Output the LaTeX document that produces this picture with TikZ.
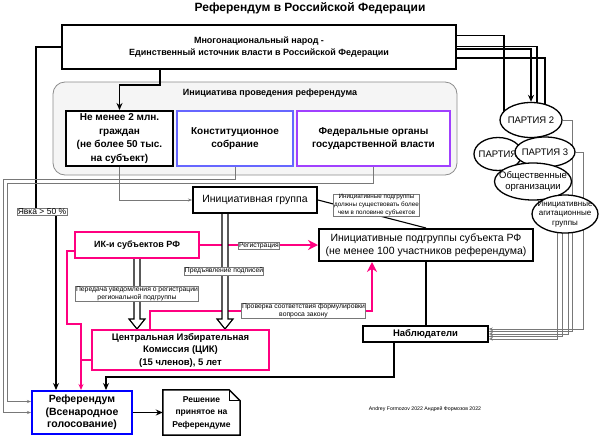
\documentclass[tikz,border=0pt]{standalone}
\usepackage{fontspec}
\setmainfont{Liberation Sans}
\usetikzlibrary{arrows.meta,calc,shapes.geometric}
\definecolor{pinkc}{RGB}{255,0,128}
\definecolor{bluec}{RGB}{0,0,255}
\definecolor{constc}{RGB}{102,102,255}
\definecolor{fedc}{RGB}{160,64,255}
\definecolor{grayline}{RGB}{120,120,120}
\definecolor{contfill}{RGB}{245,245,245}
\definecolor{contdraw}{RGB}{140,140,140}
\newcommand\myfs[2]{\fontsize{#1}{#2}\selectfont}
\pgfdeclarelayer{bg}
\pgfsetlayers{bg,main}
\newcommand\hollowarr[2]{%
  \filldraw[draw=black, line width=1.2pt, fill=white, line join=miter]
    let \p1=(#1), \p2=(#2) in
    (\x1-3pt,\y1) -- (\x1-3pt,\y2+10pt) -- (\x1-8pt,\y2+10pt) -- (\x1,\y2)
    -- (\x1+8pt,\y2+10pt) -- (\x1+3pt,\y2+10pt) -- (\x1+3pt,\y1);}
\tikzset{
  bx/.style={draw, rectangle, align=center, inner sep=1pt, fill=white},
  lbl/.style={draw=grayline, line width=0.5pt, fill=white, align=center, inner sep=0.6pt, font=\myfs{6.8}{7.6}},
  ell/.style={ellipse, draw, line width=1.3pt, fill=white, inner sep=0pt},
  thk/.style={line width=1.4pt},
  conn/.style={line width=1.4pt, -{Stealth[length=7pt,width=6pt]}},
  pinkthin/.style={draw=pinkc, line width=1.3pt},
  pinkarr/.style={draw=pinkc, line width=1.3pt, -{Stealth[length=6pt,width=5pt]}},
  pinkbig/.style={draw=pinkc, line width=2pt, -{Stealth[length=10pt,width=10pt]}},
  grayc/.style={draw=grayline, line width=0.6pt, -{Stealth[length=4pt,width=3pt]}},
}
\begin{document}
\begin{tikzpicture}[x=1pt,y=-1pt]
\useasboundingbox (0,0) rectangle (600,437);
\begin{pgfonlayer}{bg}
  \fill[white] (0,0) rectangle (600,437);
  \node[draw=contdraw, line width=0.8pt, fill=contfill, rounded corners=12pt, minimum width=404, minimum height=93, inner sep=0pt] (cont) at (255,128.5) {};
\end{pgfonlayer}
\node[font=\bfseries\myfs{12}{14}] (title) at (310,8) {Референдум в Российской Федерации};
\node[bx, line width=2pt, minimum width=394, minimum height=44, font=\bfseries\myfs{9}{11.5}] (people) at (259,47) {Многонациональный народ -\\Единственный источник власти в Российской Федерации};
\node[font=\bfseries\myfs{9}{11}] (conttitle) at (270,93) {Инициатива проведения референдума};
\node[bx, line width=2pt, minimum width=107, minimum height=55, font=\bfseries\myfs{10}{13.5}] (b1) at (119.5,138.5) {Не менее 2 млн.\\граждан\\(не более 50 тыс.\\на субъект)};
\node[bx, draw=constc, line width=1.6pt, minimum width=116, minimum height=55, font=\bfseries\myfs{10}{13.5}] (b2) at (235,138.5) {Конституционное\\собрание};
\node[bx, draw=fedc, line width=1.6pt, minimum width=153, minimum height=55, font=\bfseries\myfs{10}{13.5}] (b3) at (373.5,138.5) {Федеральные органы\\государственной власти};
\node[bx, line width=2pt, minimum width=124, minimum height=26, font=\myfs{10.5}{12}] (group) at (255,200) {Инициативная группа};
\node[bx, line width=2pt, minimum width=214, minimum height=32, font=\myfs{10.5}{13}] (podgr) at (426,245) {Инициативные подгруппы субъекта РФ\\(не менее 100 участников референдума)};
\node[bx, draw=pinkc, line width=2pt, minimum width=124, minimum height=26, font=\bfseries\myfs{9}{11}] (ik) at (137,245) {ИК-и субъектов РФ};
\node[bx, draw=pinkc, line width=2pt, minimum width=177, minimum height=40, font=\bfseries\myfs{9.5}{12.5}] (cik) at (180.5,350) {Центральная Избирательная\\Комиссия (ЦИК)\\(15 членов), 5 лет};
\node[bx, line width=1.6pt, minimum width=125, minimum height=16, font=\bfseries\myfs{9.5}{11}] (nab) at (425.5,334) {Наблюдатели};
\node[bx, draw=bluec, line width=2pt, minimum width=100, minimum height=43, font=\bfseries\myfs{10.5}{12.5}] (ref) at (82,412.5) {Референдум\\(Всенародное\\голосование)};
\node[align=center, minimum width=77, minimum height=45, inner sep=0pt, font=\bfseries\myfs{8.5}{12.5}] (doc) at (201.5,412.5) {Решение\\принятое на\\Референдуме};
\node[ell, minimum width=62, minimum height=35, label={[font=\myfs{9.5}{11}]center:ПАРТИЯ 2}] (p2) at (531,120) {};
\node[ell, minimum width=48, minimum height=33, label={[font=\myfs{9.5}{11}]center:ПАРТИЯ}] (p1) at (498,154) {};
\node[ell, minimum width=60, minimum height=30, label={[font=\myfs{9.5}{11}]center:ПАРТИЯ 3}] (p3) at (545,152) {};
\node[ell, minimum width=77, minimum height=37, label={[font=\myfs{9.5}{11.5},align=center]center:Общественные\\организации}] (obsh) at (533,181.5) {};
\node[ell, minimum width=66, minimum height=38, label={[font=\myfs{8}{9.5},align=center]center:Инициативные\\агитационные\\группы}] (agit) at (565,214) {};
\node[lbl, font=\myfs{8.5}{9.5}] (yavka) at (42,212) {Явка > 50 \%};
\node[lbl] (lreg) at (259,245.5) {Регистрация};
\node[lbl] (lpred) at (224,271) {Предъявление подписей};
\node[lbl] (lper) at (137,294) {Передача уведомления о регистрации\\региональной подгруппы};
\node[lbl] (prov) at (303.5,311) {Проверка соответствия формулировки\\вопроса закону};
\node[lbl, font=\myfs{6.3}{7.8}] (lsub) at (376.5,205) {Инициативные подгруппы\\должны существовать более\\чем в половине субъектов};
\node[font=\myfs{5.2}{6}] (credit) at (425,409) {Andrey Formozov 2022 Андрей Формозов 2022};
\begin{pgfonlayer}{bg}
\coordinate (pa) at ([xshift=-99pt]people.south);
\draw[conn] (pa) -- ++(0,15) -| (b1.north);
\coordinate (yv1) at ([xshift=-6pt]yavka.north);
\coordinate (yv2) at ([xshift=14pt]yavka.south);
\draw[thk] (people.west) -| (yv1);
\draw[conn] (yv2) -- (yv2 |- ref.north);
\coordinate (pk1) at (67,324);
\coordinate (pk2) at (81,324);
\draw[pinkarr] ([yshift=-6pt]ik.west) -| (pk1) -- (pk2) -- (pk2 |- ref.north);
\coordinate (cw) at ([yshift=-10pt]cik.west);
\draw[pinkthin] (cw) -- (cw -| pk2);
\coordinate (nb) at ([xshift=-31.5pt]nab.south);
\coordinate (nt) at (106,377);
\draw[conn] (nb) |- (nt) -- (nt |- ref.north);
\draw[line width=1.2pt] (podgr.south) -- (podgr.south |- nab.north);
\coordinate (cn) at ([xshift=-30.5pt]cik.north);
\coordinate (pn) at ([xshift=-54pt]podgr.south);
\draw[draw=pinkc, line width=2pt] (cn) |- (prov.west);
\draw[pinkbig] (prov.east) -| (pn);
\draw[pinkbig] (ik.east) -- (podgr.west);
\hollowarr{ik.south}{cik.north}
\hollowarr{[xshift=-30pt]group.south}{cik.north}
\draw[line width=1.1pt] (group.east) -- (podgr.north);
\draw[grayc] (b1.south) |- (group.west);
\coordinate (g1) at (3,179);
\coordinate (g2) at (7,183);
\coordinate (rw2) at ([yshift=11pt]ref.west);
\draw[grayc] (b2.south) |- (g1) |- (ref.west);
\draw[grayc] (b3.south) |- (g2) |- (rw2);
\coordinate (e1) at ([xshift=-27pt]p2.center);
\coordinate (e2) at ([xshift=6pt]p2.center);
\coordinate (e4) at ([xshift=14pt]p2.center);
\draw[thk] ([yshift=11.5pt]people.east) -| (e1);
\draw[thk] ([yshift=0.5pt]people.east) -| (e2);
\draw[conn] ([yshift=-2pt]people.east) -| (p2.north);
\draw[thk] ([yshift=-11pt]people.east) -| (e4);
\draw[grayc] (p3.east) -- ++(8,0) |- ([yshift=5pt]nab.east);
\draw[grayc] (p2.east) -- ++(10,0) |- ([yshift=2.5pt]nab.east);
\draw[grayc] ([xshift=3pt]agit.center) |- (nab.east);
\draw[grayc] ([xshift=-3pt]agit.center) |- ([yshift=-2.5pt]nab.east);
\draw[grayc] ([xshift=-8pt]agit.center) |- ([yshift=-5pt]nab.east);
\draw[line width=1.5pt, fill=white, line join=miter] (doc.north west) -- ([xshift=-11pt]doc.north east) -- ([yshift=-11pt]doc.north east) -- (doc.south east) -- (doc.south west) -- cycle;
\draw[line width=1.2pt] ([xshift=-11pt]doc.north east) |- ([yshift=-11pt]doc.north east);
\draw[conn] (ref.east) -- (doc.west);
\end{pgfonlayer}
\end{tikzpicture}
\end{document}
